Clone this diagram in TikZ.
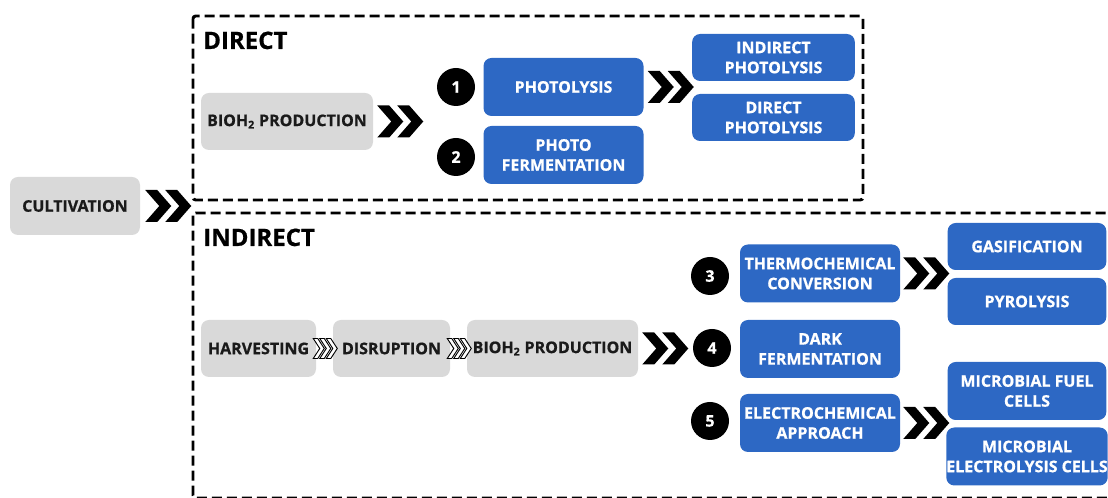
\documentclass[tikz,border=0pt]{standalone}
\usepackage{fontspec}
\setmainfont{Open Sans}[BoldFeatures={FakeBold=0.7}]
\definecolor{boxblue}{RGB}{45,104,196}
\definecolor{boxgray}{RGB}{217,217,217}
\definecolor{inkdark}{RGB}{26,26,26}
\tikzset{
  boxtext/.style={font=\bfseries\fontsize{12}{15}\selectfont, align=center, inner sep=0pt},
  gbox/.style={boxtext, rectangle, rounded corners=6pt, fill=boxgray, text=inkdark,
    minimum height=42.75pt},
  bbox/.style={boxtext, rectangle, rounded corners=6pt, fill=boxblue, text=white,
    minimum width=120pt, minimum height=43.5pt},
  bboxlow/.style={bbox, minimum width=119pt, minimum height=35.25pt},
  numdot/.style={circle, fill=black, text=white, minimum size=28.5pt, inner sep=0pt,
    font=\bfseries\fontsize{12}{14}\selectfont},
  region/.style={draw=black, line width=2.2pt, dash pattern=on 7.5pt off 3.75pt,
    rounded corners=2pt},
  heading/.style={font=\bfseries\fontsize{18}{20}\selectfont, text=black,
    anchor=base west, inner sep=0pt},
  % double filled chevron, drawn from its left edge
  chev/.pic={
    \fill[black] (0,-16) -- (12,-16) -- (26,0) -- (12,16) -- (0,16) -- (14,0) -- cycle;
    \fill[black] (20,-16) -- (32,-16) -- (46,0) -- (32,16) -- (20,16) -- (34,0) -- cycle;
  },
  % triple outlined chevron, drawn from its left edge
  chevthin/.pic={
    \foreach \dx in {0,6.5,13}{
      \filldraw[fill=white, draw=black, line width=0.7pt]
        (\dx,-10) -- (\dx+4.5,-10) -- (\dx+11,0) -- (\dx+4.5,10) -- (\dx,10) -- (\dx+6.5,0) -- cycle;
    }
  },
}
\begin{document}
\begin{tikzpicture}[x=0.75pt, y=-0.75pt]
\useasboundingbox (0,0) rectangle (1108,498);
\clip (0,0) rectangle (1108,498);

% dashed regions
\draw[region] (193,16) rectangle (863,200);
\draw[region] (193,213) rectangle (1125,498);
\node[heading] (hdirect) at (203,49) {DIRECT};
\node[heading] (hindirect) at (203,246) {INDIRECT};

% start
\node[gbox, minimum width=97.5pt, minimum height=43.5pt] (cult) at (75,206) {CULTIVATION};
\path (cult.east) ++(5,0) pic {chev};

% direct route
\node[gbox, minimum width=129pt] (bioA) at (287,121.5) {BIOH\textsubscript{2} PRODUCTION};
\path (bioA.east) ++(4,0) pic {chev};
\node[bbox] (photo) at (563.5,87) {PHOTOLYSIS};
\node[bbox] (pferm) at (563.5,155) {PHOTO\\FERMENTATION};
\node[numdot] (n1) at (456,87) {1};
\node[numdot] (n2) at (456,157) {2};
\path (photo.east) ++(4,0) pic {chev};
\node[bboxlow, minimum width=122pt] (indphot) at (773.5,57.5) {INDIRECT\\PHOTOLYSIS};
\node[bboxlow, minimum width=122pt] (dirphot) at (773.5,117.5) {DIRECT\\PHOTOLYSIS};

% indirect route
\node[gbox, minimum width=86.25pt] (harv) at (258.5,348.5) {HARVESTING};
\node[gbox, minimum width=87.75pt] (disr) at (391.5,348.5) {DISRUPTION};
\node[gbox, minimum width=128.25pt] (bioB) at (552.5,348.5) {BIOH\textsubscript{2} PRODUCTION};
\path (harv.east) ++(-3,0) pic {chevthin};
\path (disr.east) ++(-3,0) pic {chevthin};
\path (bioB.east) ++(4,0) pic {chev};

\node[numdot] (n3) at (710,276) {3};
\node[numdot] (n4) at (712,348) {4};
\node[numdot] (n5) at (710,421) {5};
\node[bbox] (thermo) at (820,273.5) {THERMOCHEMICAL\\CONVERSION};
\node[bbox] (dark) at (820,349) {DARK\\FERMENTATION};
\node[bbox] (electro) at (820,423) {ELECTROCHEMICAL\\APPROACH};
\path (thermo.east) ++(3,0) pic {chev};
\path (electro.east) ++(3,0) pic {chev};

\node[bboxlow] (gas) at (1027,246.5) {GASIFICATION};
\node[bboxlow] (pyro) at (1027,301.5) {PYROLYSIS};
\node[bbox, minimum width=119pt] (mfc) at (1027,391) {MICROBIAL FUEL\\CELLS};
\node[bbox, minimum width=119pt] (mec) at (1027,456.5) {MICROBIAL\\ELECTROLYSIS CELLS};
\end{tikzpicture}
\end{document}
